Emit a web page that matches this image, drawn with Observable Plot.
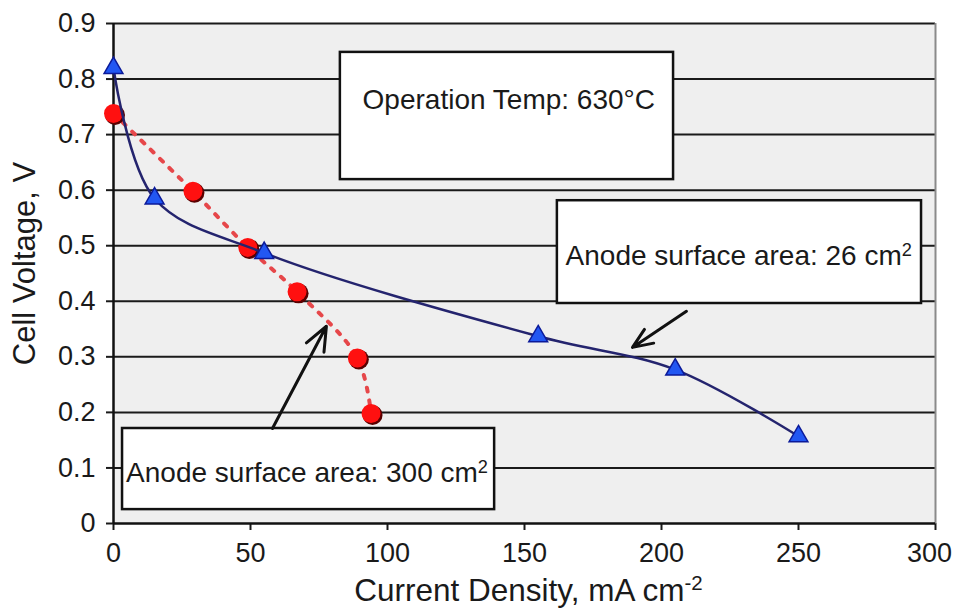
<!DOCTYPE html>
<html>
<head>
<meta charset="utf-8">
<script src="https://cdn.jsdelivr.net/npm/d3@7"></script>
<script src="https://cdn.jsdelivr.net/npm/@observablehq/plot@0.6"></script>
<style>
html, body { margin: 0; padding: 0; background: #fff; }
#chart { width: 954px; height: 609px; }
</style>
</head>
<body>
<div id="chart"></div>
<script>
// ---- data ----
const xTicks = [0, 50, 100, 150, 200, 250, 300];
const yTicks = [0, 0.1, 0.2, 0.3, 0.4, 0.5, 0.6, 0.7, 0.8, 0.9];

// Anode surface area 26 cm2 (blue triangles, solid line)
const area26X = [0, 15, 55, 155, 205, 250];
const area26Y = [0.82, 0.585, 0.487, 0.337, 0.277, 0.157];

// Anode surface area 300 cm2 (red circles, dotted line)
const area300X = [0, 29, 49, 67, 89, 94];
const area300Y = [0.738, 0.598, 0.497, 0.417, 0.298, 0.198];

// annotation boxes (data units)
const noteText = ["Operation Temp: 630°C", "Anode surface area: 26 cm²", "Anode surface area: 300 cm²"];
const noteX1 = [82.8, 162.0, 3.3];
const noteX2 = [204.4, 294.9, 139.1];
const noteY1 = [0.619, 0.396, 0.025];
const noteY2 = [0.848, 0.581, 0.171];
const noteTextX = [90.9, 165.0, 4.6];
const noteTextY = [0.763, 0.482, 0.090];

// annotation arrows (data units)
const arrowX1 = [58.0, 209.1];
const arrowY1 = [0.171, 0.382];
const arrowX2 = [77.7, 189.4];
const arrowY2 = [0.355, 0.317];

const xLabel = "Current Density, mA cm⁻²";
const yLabel = "Cell Voltage, V";

// ---- build ----
const blue = area26X.map((x, i) => ({x, y: area26Y[i]}));
const red = area300X.map((x, i) => ({x, y: area300Y[i]}));
const notes = noteText.map((t, i) => ({t, x1: noteX1[i], x2: noteX2[i], y1: noteY1[i], y2: noteY2[i], tx: noteTextX[i], ty: noteTextY[i]}));
const arrows = arrowX1.map((x1, i) => ({x1, y1: arrowY1[i], x2: arrowX2[i], y2: arrowY2[i]}));

const font = "'Liberation Sans', Arial, Helvetica, sans-serif";

const chart = Plot.plot({
  width: 954,
  height: 609,
  marginLeft: 113,
  marginRight: 19,
  marginTop: 23,
  marginBottom: 86,
  style: {fontFamily: font, fontSize: "27px", color: "#1a1a1a", background: "#fff", overflow: "visible"},
  x: {domain: [0, 300], ticks: xTicks, tickSize: 7, tickPadding: 12, tickFormat: d => String(d), label: null},
  y: {domain: [0, 0.9], ticks: yTicks, tickSize: 7, tickPadding: 11, tickFormat: d => d === 0 ? "0" : d.toFixed(1), label: null},
  marks: [
    Plot.frame({fill: "#efefef", stroke: "none"}),
    Plot.ruleY(yTicks.filter(d => d > 0), {stroke: "#1a1a1a", strokeWidth: 2}),
    Plot.ruleX([300], {stroke: "#8a8a8a", strokeWidth: 2}),
    Plot.ruleX([0], {stroke: "#111", strokeWidth: 2.5}),
    Plot.ruleY([0], {stroke: "#111", strokeWidth: 2.5}),
    Plot.rect(notes, {x1: "x1", x2: "x2", y1: "y1", y2: "y2", fill: "#fff", stroke: "#111", strokeWidth: 2.5}),
    Plot.text(notes, {x: "tx", y: "ty", text: "t", textAnchor: "start", lineAnchor: "middle", fontSize: 28, fill: "#1a1a1a"}),
    Plot.line(red, {x: "x", y: "y", curve: "catmull-rom", stroke: "#e6474a", strokeWidth: 4, strokeDasharray: "4,9"}),
    Plot.dot(red, {x: "x", y: "y", r: 10, fill: "#5a0000", dx: 1.5, dy: 1.5}),
    Plot.dot(red, {x: "x", y: "y", r: 9.5, fill: "#ff1010"}),
    Plot.line(blue, {x: "x", y: "y", curve: "catmull-rom", stroke: "#24246e", strokeWidth: 2.5}),
    Plot.dot(blue, {x: "x", y: "y", symbol: "triangle", r: 7, fill: "#2257f2", stroke: "#0b1a99", strokeWidth: 1.5}),
    Plot.arrow(arrows, {x1: "x1", y1: "y1", x2: "x2", y2: "y2", stroke: "#111", strokeWidth: 3, headLength: 13, headAngle: 45}),
    Plot.text([xLabel], {frameAnchor: "bottom", text: d => d, textAnchor: "middle", dx: 4, dy: 67, lineAnchor: "middle", fontSize: 31.5, fill: "#1a1a1a"}),
    Plot.text([yLabel], {frameAnchor: "left", text: d => d, textAnchor: "middle", rotate: -90, dx: -88, dy: -10, lineAnchor: "middle", fontSize: 31, fill: "#1a1a1a"})
  ]
});

document.getElementById("chart").appendChild(chart);

// thicker axis ticks
d3.select(chart).selectAll('[aria-label*="axis"] line, [aria-label*="axis"] path').attr("stroke-width", 2);

// keep the last x tick label inside the picture
d3.select(chart).selectAll('[aria-label*="x-axis"] text').each(function() {
  if (this.textContent === "300") this.setAttribute("dx", "-6");
});

// superscripts as real tspans
d3.select(chart).selectAll("text").each(function() {
  const t = this.textContent;
  const m = t.match(/^(.*?)(⁻?²)$/);
  if (!m || this.children.length) return;
  this.textContent = m[1];
  const sup = m[2].replace("⁻", "-").replace("²", "2");
  const ts = document.createElementNS("http://www.w3.org/2000/svg", "tspan");
  ts.setAttribute("dy", "-0.5em");
  ts.style.fontSize = "65%";
  ts.textContent = sup;
  this.appendChild(ts);
});
</script>
</body>
</html>
